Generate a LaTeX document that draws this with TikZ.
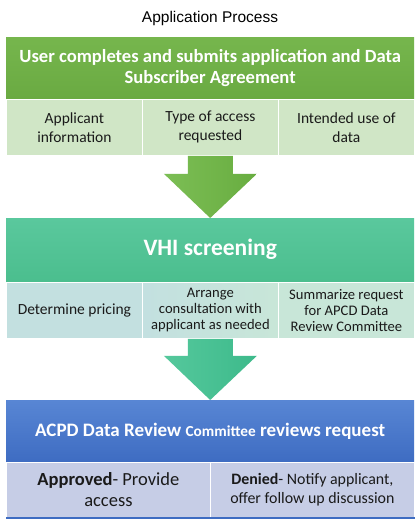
\documentclass[tikz,border=0pt]{standalone}
\usepackage{fontspec}
\setmainfont{Carlito}
\newfontfamily\arialf{Liberation Sans}
\usetikzlibrary{calc}
\definecolor{gTop}{HTML}{76B64D}
\definecolor{gBot}{HTML}{6AAA42}
\definecolor{gCell}{HTML}{D0E6C6}
\definecolor{tTop}{HTML}{5AC89D}
\definecolor{tBot}{HTML}{4BBE8E}
\definecolor{tCellA}{HTML}{C3E0E0}
\definecolor{tCellB}{HTML}{C8E6D8}
\definecolor{bTop}{HTML}{5886D4}
\definecolor{bBot}{HTML}{3E6CC2}
\definecolor{bCell}{HTML}{C6CDE6}
\definecolor{arrG}{HTML}{68AD40}
\definecolor{arrGl}{HTML}{7CBE55}
\definecolor{arrT}{HTML}{3DBA8B}
\definecolor{arrTl}{HTML}{55C89C}
\definecolor{txt}{HTML}{1A1A1A}
\begin{document}
\begin{tikzpicture}[x=1pt,y=-1pt,
  hdr/.style={anchor=north west, minimum width=408pt, inner sep=0pt, align=center, text=white},
  cell/.style={anchor=north west, inner sep=1pt, align=center, draw=white, line width=0.8pt, text=txt},
  cellthree/.style={cell, minimum width=136pt, minimum height=56pt, font=\fontsize{15.5}{19}\selectfont},
  celltwo/.style={cell, minimum width=204pt, minimum height=55pt}]
\useasboundingbox (0,0) rectangle (420,522);
\fill[white] (0,0) rectangle (420,522);

\node[font=\arialf\fontsize{15.5}{18}\selectfont] (title) at (210,18) {Application Process};

% Box 1
\node[hdr, minimum height=61pt, top color=gTop, bottom color=gBot,
      font=\bfseries\fontsize{18.6}{21}\selectfont] (h1) at (6,37)
      {User completes and submits application and Data\\Subscriber Agreement};
\node[cellthree, fill=gCell] (c11) at (6,99) {Applicant\\information};
\node[cellthree, fill=gCell] (c12) at (142,99) {Type of access\\requested};
\node[cellthree, fill=gCell] (c13) at (278,99) {Intended use of\\data};

% Box 2
\node[hdr, minimum height=63pt, top color=tTop, bottom color=tBot,
      font=\bfseries\fontsize{23.5}{28}\selectfont] (h2) at (6,218) {VHI screening};
\node[cellthree, fill=tCellA, font=\fontsize{15.5}{17}\selectfont] (c21) at (6,282) {Determine pricing};
\node[cellthree, left color=tCellA, right color=tCellB, font=\fontsize{14.6}{16}\selectfont] (c22) at (142,282) {Arrange\\consultation with\\applicant as needed};
\node[cellthree, fill=tCellB, font=\fontsize{14.6}{16}\selectfont] (c23) at (278,282) {Summarize request\\for APCD Data\\Review Committee};

% Box 3
\node[hdr, minimum height=62pt, top color=bTop, bottom color=bBot,
      font=\bfseries\fontsize{19}{21}\selectfont] (h3) at (6,400)
      {ACPD Data Review {\fontsize{15.3}{21}\selectfont Committee} reviews request};
\node[celltwo, fill=bCell, font=\fontsize{18.5}{21}\selectfont] (c31) at (6,462) {\textbf{Approved}- Provide\\access};
\node[celltwo, fill=bCell, font=\fontsize{15.9}{18.5}\selectfont] (c32) at (210,462) {\textbf{Denied}- Notify applicant,\\offer follow up discussion};
\draw[bBot, line width=1.6pt] (c31.south west) -- (c32.south east);

% Arrows
\path[left color=arrGl, right color=arrG]
  ($(c12.south)+(-22.5,0)$) -- ($(c12.south)+(22.5,0)$) -- ($(c12.south)+(22.5,18)$)
  -- ($(c12.south)+(46.5,18)$) -- (h2.north) -- ($(c12.south)+(-46.5,18)$)
  -- ($(c12.south)+(-22.5,18)$) -- cycle;
\path[left color=arrTl, right color=arrT]
  ($(c22.south)+(-22.5,0)$) -- ($(c22.south)+(22.5,0)$) -- ($(c22.south)+(22.5,17)$)
  -- ($(c22.south)+(46.5,17)$) -- (h3.north) -- ($(c22.south)+(-46.5,17)$)
  -- ($(c22.south)+(-22.5,17)$) -- cycle;
\end{tikzpicture}
\end{document}
